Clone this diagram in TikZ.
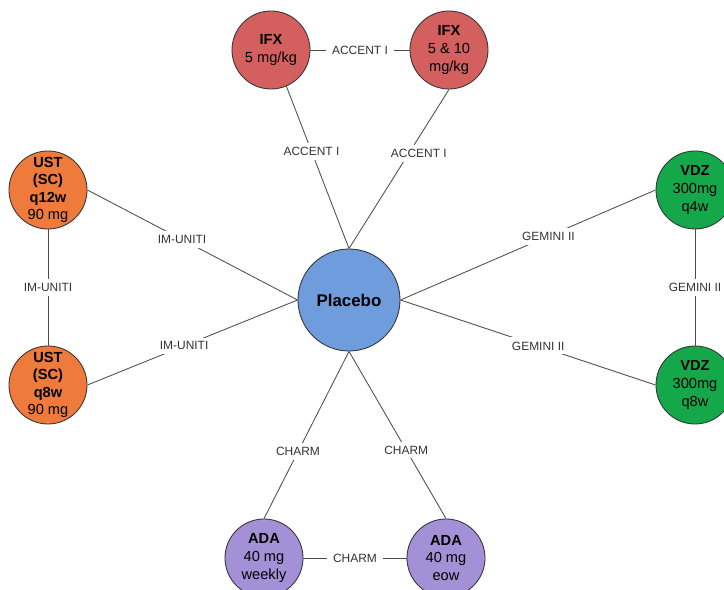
\documentclass[tikz,border=0pt]{standalone}
\usepackage{fontspec}
\setmainfont{Liberation Sans}
\usetikzlibrary{positioning}

\definecolor{ifxred}{HTML}{D35F5F}
\definecolor{ustorange}{HTML}{EE7A3C}
\definecolor{vdzgreen}{HTML}{14A84B}
\definecolor{adapurple}{HTML}{A390D6}
\definecolor{placeblue}{HTML}{6E9CDC}

\begin{document}
\begin{tikzpicture}[
  x=0.025cm,
  y=-0.025cm,
  arm/.style={circle, draw=black!80, line width=0.6pt, minimum size=1.95cm, inner sep=0pt, align=center, font=\fontsize{10.4}{12.5}\selectfont},
  refarm/.style={circle, draw=black!80, line width=0.6pt, fill=placeblue, minimum size=2.55cm, inner sep=0pt, font=\fontsize{12}{14}\selectfont\bfseries},
  trial/.style={line width=0.6pt, draw=black!70},
  tlabel/.style={fill=white, inner xsep=4pt, inner ysep=3pt, text=black!80, font=\fontsize{8.5}{10}\selectfont},
]
\useasboundingbox (0,0) rectangle (724,590);

\node[refarm] (pl) at (349,300) {Placebo};

\node[arm, fill=ifxred] (ifx1) at (271,50) {\textbf{IFX}\\5 mg/kg};
\node[arm, fill=ifxred] (ifx2) at (449,50) {\textbf{IFX}\\5 \& 10\\mg/kg};
\node[arm, fill=ustorange] (ust1) at (48,190) {\textbf{UST}\\\textbf{(SC)}\\\textbf{q12w}\\90 mg};
\node[arm, fill=ustorange] (ust2) at (48,385) {\textbf{UST}\\\textbf{(SC)}\\\textbf{q8w}\\90 mg};
\node[arm, fill=vdzgreen] (vdz1) at (695,190) {\textbf{VDZ}\\300mg\\q4w};
\node[arm, fill=vdzgreen] (vdz2) at (695,385) {\textbf{VDZ}\\300mg\\q8w};
\node[arm, fill=adapurple] (ada1) at (264,558) {\textbf{ADA}\\40 mg\\weekly};
\node[arm, fill=adapurple] (ada2) at (446,558) {\textbf{ADA}\\40 mg\\eow};

\draw[trial] (ifx1) to node[tlabel] {ACCENT I} (ifx2);
\draw[trial] (pl.north) to node[tlabel, pos=0.6] {ACCENT I} (ifx1.-67);
\draw[trial] (pl.north) to node[tlabel, pos=0.6, xshift=7pt] {ACCENT I} (ifx2.south);
\draw[trial] (pl.west) to node[tlabel, pos=0.55] {IM-UNITI} (ust1.east);
\draw[trial] (pl.west) to node[tlabel, pos=0.54] {IM-UNITI} (ust2.east);
\draw[trial] (ust1) to node[tlabel] {IM-UNITI} (ust2);
\draw[trial] (pl.east) to node[tlabel, pos=0.58] {GEMINI II} (vdz1.west);
\draw[trial] (pl.east) to node[tlabel, pos=0.54] {GEMINI II} (vdz2.west);
\draw[trial] (vdz1) to node[tlabel] {GEMINI II} (vdz2);
\draw[trial] (pl.south) to node[tlabel, pos=0.6] {CHARM} (ada1.north);
\draw[trial] (pl.south) to node[tlabel, pos=0.59] {CHARM} (ada2.north);
\draw[trial] (ada1) to node[tlabel] {CHARM} (ada2);

\end{tikzpicture}
\end{document}
